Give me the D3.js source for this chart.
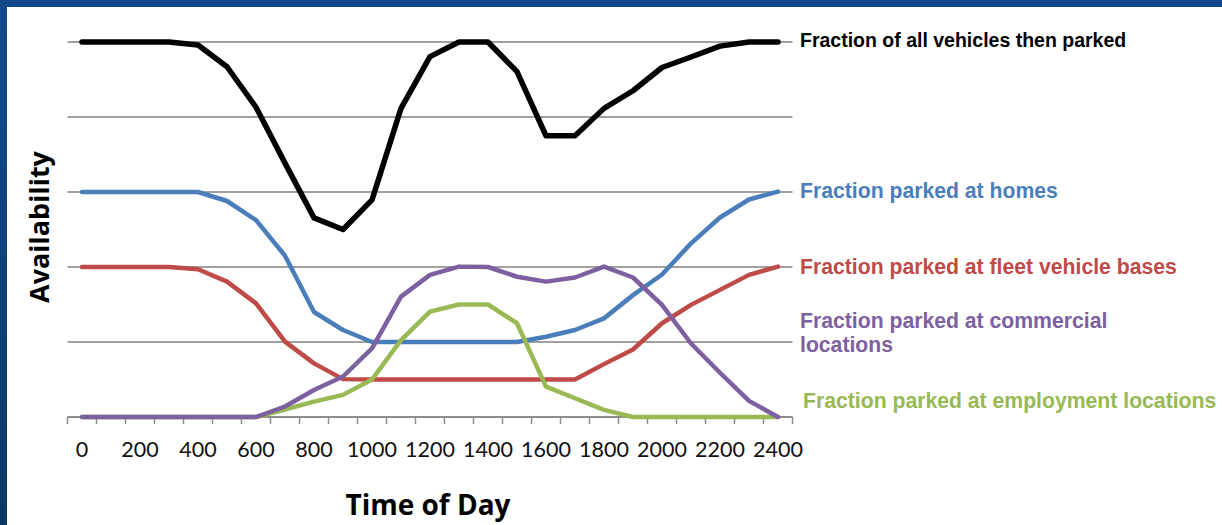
<!DOCTYPE html>
<html>
<head>
<meta charset="utf-8">
<script src="https://cdn.jsdelivr.net/npm/d3@7"></script>
<style>
  html, body { margin: 0; padding: 0; background: #ffffff; }
  svg { display: block; }
</style>
</head>
<body>
<svg id="chart" width="1222" height="525"></svg>
<script>
// ---- data ----
const times = [0,100,200,300,400,500,600,700,800,900,1000,1100,1200,1300,1400,1500,1600,1700,1800,1900,2000,2100,2200,2300,2400];
const tickLabels = ["0","200","400","600","800","1000","1200","1400","1600","1800","2000","2200","2400"];
const allParked  = [1.0,1.0,1.0,1.0,0.992,0.934,0.826,0.677,0.531,0.500,0.579,0.823,0.961,1.0,1.0,0.921,0.750,0.750,0.823,0.870,0.932,0.960,0.989,1.0,1.0];
const homes      = [0.6,0.6,0.6,0.6,0.6,0.576,0.525,0.430,0.280,0.232,0.2,0.2,0.2,0.2,0.2,0.2,0.214,0.232,0.263,0.325,0.380,0.463,0.532,0.580,0.601];
const fleet      = [0.4,0.4,0.4,0.4,0.394,0.361,0.303,0.201,0.143,0.101,0.1,0.1,0.1,0.1,0.1,0.1,0.1,0.1,0.141,0.180,0.250,0.299,0.339,0.379,0.401];
const commercial = [0,0,0,0,0,0,0,0.028,0.072,0.108,0.183,0.321,0.379,0.401,0.4,0.374,0.361,0.372,0.401,0.372,0.299,0.196,0.118,0.043,0];
const employment = [0,0,0,0,0,0,0,0.020,0.041,0.059,0.1,0.205,0.281,0.3,0.3,0.25,0.081,0.05,0.019,0,0,0,0,0,0];
const gridValues = [0.2,0.4,0.6,0.8,1.0];

const seriesNames = ["Fraction parked at homes","Fraction parked at fleet vehicle bases","Fraction parked at employment locations","Fraction parked at commercial locations","Fraction of all vehicles then parked"];
const seriesData  = [homes, fleet, employment, commercial, allParked];
const seriesColors = ["#4a7ebb","#be4b48","#98b954","#7d60a0","#000000"];
const seriesWidths = [4.5,4.5,4.5,4.5,5.5];

const svg = d3.select("#chart");

// background frame
const defs = svg.append("defs");
const grad = defs.append("linearGradient").attr("id","bg").attr("x1","0").attr("y1","0").attr("x2","0").attr("y2","1");
grad.append("stop").attr("offset","0%").attr("stop-color","#124a8c");
grad.append("stop").attr("offset","100%").attr("stop-color","#0b3a66");
svg.append("rect").attr("x",0).attr("y",0).attr("width",1222).attr("height",525).attr("fill","url(#bg)");
svg.append("rect").attr("x",7).attr("y",7).attr("width",1215).attr("height",518).attr("fill","#ffffff");

// scales
const x = d3.scaleBand().domain(times).range([67.5, 792.5]).paddingInner(0).paddingOuter(0);
const y = d3.scaleLinear().domain([0, 1]).range([417, 42]);
const cx = t => x(t) + x.bandwidth() / 2;

// gridlines
svg.append("g").selectAll("line").data(gridValues).join("line")
  .attr("x1", x.range()[0]).attr("x2", x.range()[1])
  .attr("y1", d => y(d)).attr("y2", d => y(d))
  .attr("stroke", "#a0a0a0").attr("stroke-width", 2);

// x axis
const axisG = svg.append("g").attr("transform", `translate(0,${y(0)})`);
axisG.append("line").attr("x1", x.range()[0]).attr("x2", x.range()[1]).attr("y1",0).attr("y2",0)
  .attr("stroke","#8c8c8c").attr("stroke-width",2);
const boundaries = times.map(t => x(t)).concat([x.range()[1]]);
axisG.selectAll("line.tk").data(boundaries).join("line").attr("class","tk")
  .attr("x1", d => d).attr("x2", d => d).attr("y1", 0).attr("y2", 7)
  .attr("stroke","#8c8c8c").attr("stroke-width",1.5);
const labelAxis = d3.axisBottom(x)
  .tickValues(times.filter(t => tickLabels.includes(String(t))))
  .tickFormat(d => String(d)).tickSize(0).tickPadding(25);
const la = svg.append("g").attr("transform", `translate(0,${y(0)})`).call(labelAxis);
la.select(".domain").remove();
la.selectAll("text").attr("font-family","Lato, 'Open Sans', sans-serif").attr("font-size", 21.5).attr("fill","#111");

// lines
const line = d3.line().x((d,i) => cx(times[i])).y(d => y(d));
svg.append("g").selectAll("path").data(seriesData).join("path")
  .attr("d", d => line(d))
  .attr("fill","none")
  .attr("stroke", (d,i) => seriesColors[i])
  .attr("stroke-width", (d,i) => seriesWidths[i])
  .attr("stroke-linejoin","round").attr("stroke-linecap","round");

// labels on right
const lblFont = "'Liberation Sans', Arial, sans-serif";
const labels = [
  {lines:["Fraction of all vehicles then parked"], color:"#000000", x:800, y:47, size:19.5},
  {lines:["Fraction parked at homes"], color:"#4a7ebb", x:800, y:198, size:21.2},
  {lines:["Fraction parked at fleet vehicle bases"], color:"#be4b48", x:800, y:274, size:21.2},
  {lines:["Fraction parked at commercial","locations"], color:"#7d60a0", x:800, y:328, size:21.2},
  {lines:["Fraction parked at employment locations"], color:"#98b954", x:803, y:408, size:21.2}
];
labels.forEach(l => {
  const t = svg.append("text").attr("x", l.x).attr("y", l.y)
    .attr("font-family", lblFont).attr("font-weight","bold").attr("font-size", l.size).attr("fill", l.color);
  l.lines.forEach((s, i) => t.append("tspan").attr("x", l.x).attr("dy", i === 0 ? 0 : 24).text(s));
});

// axis titles
svg.append("text").attr("x", 428).attr("y", 515).attr("text-anchor","middle")
  .attr("font-family","'Open Sans', Lato, sans-serif").attr("font-weight","bold").attr("font-size",28).attr("fill","#000")
  .text("Time of Day");
svg.append("text").attr("transform","translate(49,227) rotate(-90)").attr("text-anchor","middle")
  .attr("font-family","'Open Sans', Lato, sans-serif").attr("font-weight","bold").attr("font-size",27).attr("fill","#000")
  .text("Availability");
</script>
</body>
</html>
